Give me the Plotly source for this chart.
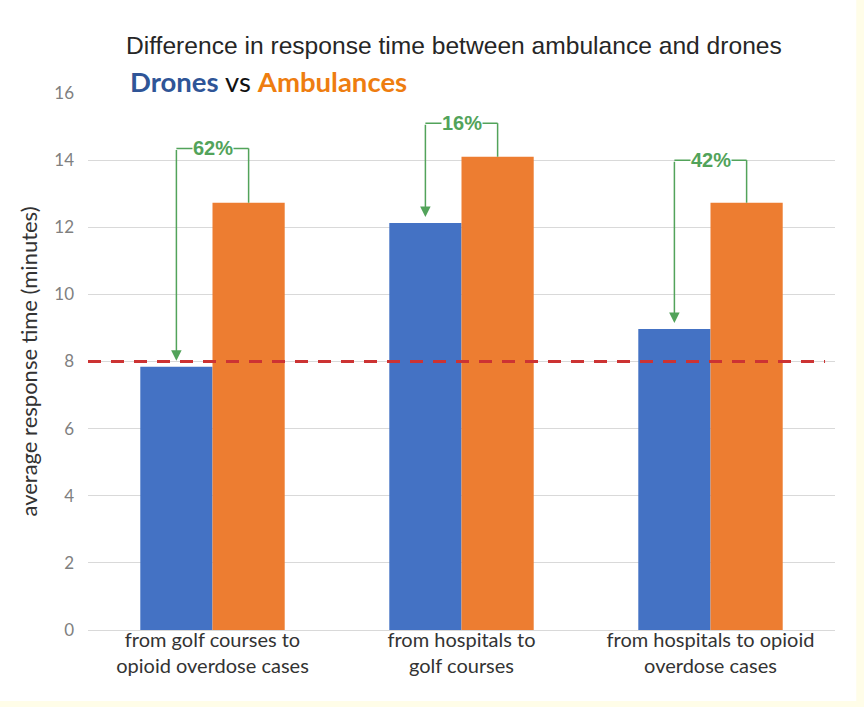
import plotly.graph_objects as go

categories = ["from golf courses to<br>opioid overdose cases",
              "from hospitals to<br>golf courses",
              "from hospitals to opioid<br>overdose cases"]
drones = [7.84, 12.13, 8.97]
ambulances = [12.73, 14.1, 12.73]
pct_labels = ["62%", "16%", "42%"]
bracket_levels = [14.35, 15.1, 14.0]
target_line = 8
y_ticks = [0, 2, 4, 6, 8, 10, 12, 14, 16]

BLUE = "#4472C4"
ORANGE = "#ED7D31"
GREEN = "#52A35A"
RED = "#CC3333"

bargap = 0.42
half = (1 - bargap) / 4  # offset of each bar centre from category centre

xs = list(range(len(categories)))
fig = go.Figure()
fig.add_trace(go.Bar(x=xs, y=drones, name="Drones", marker=dict(color=BLUE, line=dict(width=0))))
fig.add_trace(go.Bar(x=xs, y=ambulances, name="Ambulances", marker=dict(color=ORANGE, line=dict(width=0))))

shapes = []
annotations = []
# white page with pale yellow edge
shapes.append(dict(type="rect", xref="paper", yref="paper", x0=-0.2, x1=1.0285, y0=-0.132, y1=1.3,
                   fillcolor="white", line=dict(width=0), layer="below"))
# target dashed line
shapes.append(dict(type="line", xref="x", yref="y", x0=-0.5, x1=2.46, y0=target_line, y1=target_line,
                   line=dict(color=RED, width=3, dash="13px,10px"), layer="above"))

for i in xs:
    xl = i - half
    xr = i + half
    top = bracket_levels[i]
    shapes.append(dict(type="line", xref="x", yref="y", x0=xl, x1=xr, y0=top, y1=top,
                       line=dict(color=GREEN, width=1.5)))
    shapes.append(dict(type="line", xref="x", yref="y", x0=xr, x1=xr, y0=top, y1=ambulances[i],
                       line=dict(color=GREEN, width=1.5)))
    annotations.append(dict(x=xl, y=drones[i], ax=xl, ay=top, xref="x", yref="y", axref="x", ayref="y",
                            showarrow=True, arrowhead=2, arrowsize=1.4, arrowwidth=1.5,
                            arrowcolor=GREEN, standoff=6, text=""))
    annotations.append(dict(x=i, y=top, xref="x", yref="y", text="<b>" + pct_labels[i] + "</b>", showarrow=False,
                            font=dict(family="Liberation Sans, Arial", size=20, color=GREEN),
                            bgcolor="white", borderpad=0))

annotations.append(dict(xref="paper", yref="paper", x=(453.5 - 88) / 747, y=(630 - 45) / 537,
                        text="Difference in response time between ambulance and drones",
                        showarrow=False, xanchor="center", yanchor="middle",
                        font=dict(family="Liberation Sans, Arial", size=24.6, color="#262626")))
annotations.append(dict(xref="paper", yref="paper", x=(128 - 88) / 747, y=(630 - 81) / 537,
                        text="<b><span style='color:#2F5597'>Drones</span></b> vs <b><span style='color:#EE7D10'>Ambulances</span></b>",
                        showarrow=False, xanchor="left", yanchor="middle",
                        font=dict(family="Lato, Carlito, sans-serif", size=27.5, color="#111")))

fig.update_layout(
    width=864, height=707,
    margin=dict(l=88, r=29, t=93, b=77),
    paper_bgcolor="#FFFDE8",
    plot_bgcolor="rgba(0,0,0,0)",
    barmode="group", bargap=bargap, bargroupgap=0,
    showlegend=False,
    shapes=shapes,
    annotations=annotations,
    xaxis=dict(range=[-0.5, 2.5], tickvals=xs, ticktext=categories, showgrid=False,
               showline=True, linecolor="#D9D9D9", linewidth=1, ticks="", zeroline=False,
               ticklabelstandoff=-8,
               tickfont=dict(family="Lato, sans-serif", size=20, color="#333")),
    yaxis=dict(range=[0, 16], tickvals=y_ticks, showgrid=True, gridcolor="#D9D9D9", gridwidth=1,
               zeroline=False, ticks="", ticklabelstandoff=13,
               tickfont=dict(family="Lato, sans-serif", size=17, color="#808080"),
               title=dict(text="average response time (minutes)", standoff=10,
                          font=dict(family="Lato, sans-serif", size=22, color="#333"))),
)

fig.write_html("out.html")
